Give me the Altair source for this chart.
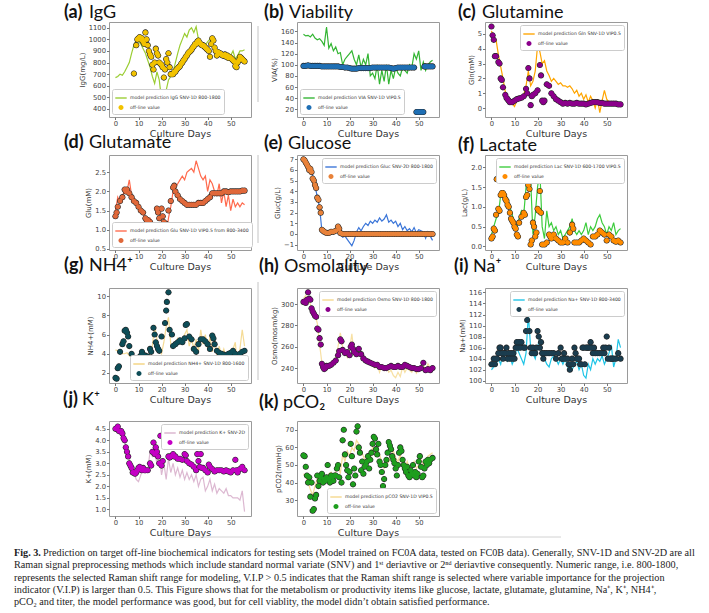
import altair as alt
import pandas as pd

DAYS = list(range(57))
X_DOMAIN = [-2.8, 58.8]
X_TICKS = [0, 10, 20, 30, 40, 50]
OFF = "off-line value"

# ---------------- (a) IgG
IGG_LINE = [670, 680, 700, 690, 720, 760, 800, 880, 950, 990,
            980, 960, 920, 880, 820, 760, 680, 620, 720, 650,
            480, 370, 560, 650, 680, 720, 800, 880, 950, 1000,
            1050, 1020, 1080, 1100, 1060, 1110, 1000, 960, 920, 950,
            980, 1000, 960, 940, 880, 900, 870, 860, 870, 880,
            860, 900, 830, 860, 900, 900, 910]
IGG_PTS = [(8, 705), (9, 950), (9.5, 1000), (10, 1010), (10.5, 1020), (11, 1000), (11.5, 1010), (12, 980),
           (12.5, 960), (13, 1060), (13.5, 1000), (14, 950), (14.5, 900), (15, 870), (15.5, 850), (16, 780),
           (16.5, 740), (17, 800), (17.5, 920), (18, 880), (18.5, 860), (19, 800), (19.5, 790), (20, 780),
           (20.5, 760), (21, 670), (21.5, 740), (22, 830), (22.5, 800), (23, 880), (23.5, 760), (24, 700),
           (24.5, 700), (25, 700), (25.5, 720), (26, 720), (26.5, 740), (27, 750), (27.5, 760), (28, 770),
           (28.5, 790), (29, 800), (29.5, 820), (30, 830), (30.5, 850), (31, 860), (31.5, 880), (32, 890),
           (32.5, 900), (33, 910), (33.5, 930), (34, 940), (34.5, 960), (35, 960), (35.5, 980), (36, 990),
           (36.5, 970), (37, 960), (37.5, 950), (38, 950), (38.5, 940), (39, 930), (39.5, 920), (40, 910),
           (40.5, 900), (41, 850), (41.5, 960), (42, 1010), (42.5, 990), (43, 930), (43.5, 900), (44, 860),
           (44.5, 890), (45, 880), (45.5, 880), (46, 870), (46.5, 860), (47, 860), (47.5, 870), (48, 850),
           (48.5, 860), (49, 840), (49.5, 850), (50, 840), (50.5, 830), (51, 820), (51.5, 810), (52, 770),
           (52.5, 760), (53, 800), (53.5, 820), (54, 850), (54.5, 840), (55, 830), (55.5, 820), (56, 810)]
IGG_TICKS = [400, 500, 600, 700, 800, 900, 1000, 1100]

# ---------------- (b) Viability
VIA_LINE = [155, 152, 153, 150, 155, 148, 145, 147, 142, 135,
            168, 130, 138, 125, 132, 120, 122, 100, 110, 115,
            120, 125, 110, 100, 118, 95, 110, 100, 120, 80,
            85, 75, 100, 65, 90, 70, 100, 65, 90, 75,
            95, 85, 80, 95, 90, 85, 100, 95, 120, 110,
            125, 90, 105, 90, 100, 105, 108]
VIA_PTS = [(0, 98), (1, 98), (2, 99), (3, 98), (4, 98), (5, 98), (6, 98), (7, 98), (8, 97), (9, 97),
           (10, 97), (11, 97), (12, 97), (13, 97), (14, 97), (15, 97), (16, 96), (17, 96), (18, 95),
           (19, 95), (20, 94), (21, 93), (22, 93), (23, 93), (24, 94), (25, 94), (26, 94), (27, 94),
           (28, 94), (29, 94), (30, 95), (31, 95), (32, 95), (33, 95), (34, 95), (35, 95), (36, 95),
           (37, 95), (38, 94), (39, 93), (40, 94), (41, 95), (42, 95), (43, 95), (44, 95), (45, 95),
           (46, 95), (47, 95), (48, 95), (49, 15), (49.5, 15), (50, 15), (50.5, 15), (51, 15),
           (51.5, 15), (52, 15), (52.5, 97), (53, 97), (54, 97), (55, 97), (56, 97)]
VIA_TICKS = [20, 40, 60, 80, 100, 120, 140, 160]

# ---------------- (c) Glutamine
GLN_LINE = [5.2, 4.8, 4.6, 3.6, 2.8, 2.0, 1.1, 0.7, 0.5, 0.3,
            0.1, 0.5, 0.6, 0.8, 0.9, 1.5, 2.5, 1.5, 1.8, 2.5,
            4.2, 3.8, 3.0, 3.2, 2.5, 2.2, 1.8, 2.0, 1.8, 1.6,
            1.7, 1.5, 1.5, 1.4, 1.5, 1.3, 1.0, 1.2, 0.8, 1.0,
            0.6, 0.9, 0.4, 0.8, 0.5, 0.0, 0.6, -0.3, 0.5, 1.2,
            0.6, 0.4, 0.3, 0.3, 0.4, 0.3, 0.3]
GLN_PTS = [(0, 5.5), (0.5, 4.9), (1, 4.6), (1.5, 3.5), (2, 3.5), (3, 3.1), (3.5, 3.0), (4, 2.0), (4.5, 1.9),
           (5, 1.4), (6, 0.9), (6.5, 0.7), (7, 0.6), (7.5, 0.5), (8, 0.4), (9, 0.4), (10, 0.5), (11, 0.6),
           (12, 0.65), (13, 0.7), (14, 0.8), (15, 1.3), (15.5, 1.0), (16, 2.7), (16.5, 2.0), (17, 0.2),
           (17.5, 0.8), (18, 0.9), (19, 1.0), (20, 1.2), (21, 2.9), (21.5, 2.2), (22, 0.5), (22.5, 0.4),
           (23, 0.5), (24, 1.6), (25, 1.5), (26, 1.0), (27, 0.8), (28, 0.6), (29, 0.5), (30, 0.4),
           (31, 0.3), (32, 0.35), (33, 0.3), (34, 0.35), (35, 0.3), (36, 0.3), (37, 0.35), (38, 0.3),
           (39, 0.3), (40, 0.3), (41, 0.25), (42, 0.3), (43, 0.35), (44, 0.4), (45, 0.4), (46, 0.4),
           (47, 0.35), (48, 0.35), (49, 0.3), (50, 0.3), (51, 0.3), (52, 0.3), (53, 0.3), (54, 0.3),
           (55, 0.25), (56, 0.25)]
GLN_TICKS = [0, 1, 2, 3, 4, 5]

# ---------------- (d) Glutamate
GLU_LINE = [1.5, 1.85, 1.7, 1.9, 2.0, 2.0, 2.3, 1.9, 1.8, 1.7,
            1.6, 1.5, 1.4, 1.3, 1.3, 1.3, 1.2, 1.0, 0.9, 0.7,
            0.6, 1.0, 0.9, 1.3, 1.6, 2.0, 2.1, 2.2, 2.3, 2.4,
            2.3, 2.5, 2.55, 2.6, 2.5, 2.8, 2.6, 2.4, 2.3, 2.4,
            2.0, 2.3, 2.2, 2.0, 1.9, 2.2, 1.7, 2.0, 1.6, 1.9,
            1.5, 1.8, 1.6, 1.7, 1.6, 1.7, 1.65]
GLU_PTS = [(0, 1.35), (0.5, 1.45), (1, 1.6), (2, 1.75), (3, 1.85), (4, 2.05), (4.5, 2.0), (5, 2.05),
           (6, 1.95), (7, 1.85), (8, 1.75), (9, 1.7), (10, 1.6), (11, 1.5), (12, 1.45), (13, 1.3),
           (13.5, 1.25), (14, 1.25), (15, 1.2), (16, 1.1), (17, 1.05), (18, 1.55), (18.5, 1.45), (19, 1.3),
           (20, 1.55), (20.5, 1.35), (21, 1.2), (22, 1.15), (23, 1.5), (24, 1.75), (25, 2.1), (25.5, 2.15),
           (26, 2.0), (27, 1.9), (28, 1.8), (29, 1.75), (30, 1.7), (31, 1.65), (32, 1.65), (33, 1.65),
           (34, 1.65), (35, 1.65), (36, 1.7), (37, 1.7), (38, 1.7), (39, 1.75), (40, 1.8), (41, 1.85),
           (42, 1.95), (43, 1.95), (44, 1.95), (45, 1.95), (46, 1.95), (47, 2.0), (48, 2.0), (49, 1.98),
           (50, 2.0), (51, 2.0), (52, 2.0), (53, 2.0), (54, 2.0), (55, 2.02), (56, 2.02)]
GLU_TICKS = [0.5, 1.0, 1.5, 2.0, 2.5]

# ---------------- (e) Glucose
GLUC_LINE = [7.0, 6.7, 6.4, 6.0, 5.5, 4.5, 3.5, 2.5, 0.3, 0.2,
             0.1, 0.2, 0.0, 0.3, 0.3, 0.6, 0.1, -0.3, -0.2, -0.5,
             -0.8, -1.1, -0.6, 0.2, 0.6, 0.3, 0.7, 1.0, 0.8, 1.2,
             1.0, 1.3, 1.1, 1.5, 1.2, 1.4, 1.8, 1.1, 1.3, 1.0,
             1.2, 0.7, 1.0, 0.4, 0.7, 0.3, 0.5, 0.2, 0.6, 0.1,
             0.4, 0.3, 0.2, -0.4, 0.2, -0.2, -0.6]
GLUC_PTS = [(0, 7.0), (0.5, 6.9), (1, 6.7), (1.5, 6.5), (2, 6.3), (2.5, 6.0), (3, 6.1), (3.5, 5.8), (4, 5.2),
            (4.5, 5.0), (5, 4.6), (5.5, 4.3), (6, 3.4), (6.5, 3.2), (7, 2.5), (7.5, 2.0), (8, 0.4),
            (8.5, 0.3), (9, 0.2), (10, 0.1), (11, 0.1), (12, 0.2), (13, 0.2), (14, 0.3), (15, 0.7),
            (15.5, 0.5), (16, 0.1), (17, 0.0), (18, 0.0), (19, 0.0), (20, 0.0), (21, 0.0), (22, 0.0),
            (23, 0.0), (24, 0.0), (25, 0.0), (26, 0.0), (27, 0.0), (28, 0.0), (29, 0.0), (30, 0.0),
            (31, 0.0), (32, 0.0), (33, 0.0), (34, 0.0), (35, 0.0), (36, 0.0), (37, 0.0), (38, 0.0),
            (39, 0.0), (40, 0.0), (41, 0.0), (42, 0.0), (43, 0.0), (44, 0.0), (45, 0.0), (46, 0.0),
            (47, 0.0), (48, 0.0), (49, 0.0), (50, 0.0), (51, 0.0), (52, 0.0), (53, 0.0), (54, 0.0),
            (55, 0.0), (56, 0.0)]
GLUC_TICKS = [-1, 0, 1, 2, 3, 4, 5, 6, 7]

# ---------------- (f) Lactate
LAC_LINE = [0.3, 0.5, 0.7, 0.8, 1.3, 1.4, 1.3, 1.2, 1.0, 0.8,
            0.6, 0.5, 0.7, 0.9, 0.8, 1.5, 2.0, 1.7, 0.3, 0.8,
            1.5, 1.9, 0.5, 0.2, 0.9, 0.5, 0.6, 0.4, 0.5, 0.3,
            0.4, 0.2, 0.3, 0.4, 0.5, 0.7, 0.4, 0.3, 0.4, 0.3,
            0.4, 0.6, 0.3, 0.5, 0.4, 0.5, 0.7, 0.8, 0.6, 0.5,
            0.3, 0.5, 0.4, 0.6, 0.3, 0.4, 0.45]
LAC_PTS = [(0, 0.2), (0.5, 0.25), (1, 0.45), (1.5, 0.4), (2, 0.8), (2.3, 1.7), (3, 0.95), (3.5, 0.9),
           (4, 1.3), (4.5, 1.35), (5, 1.35), (5.5, 1.3), (6, 1.2), (6.5, 1.15), (7, 1.05), (7.5, 1.0),
           (8, 0.85), (8.5, 0.7), (9, 0.65), (9.5, 0.6), (10, 0.5), (10.5, 0.45), (11, 0.3), (11.5, 0.25),
           (12, 0.6), (13, 0.75), (14, 0.85), (14.5, 0.8), (15, 1.25), (15.5, 1.3), (16, 1.55), (16.5, 1.45),
           (17, 0.05), (17.5, 0.15), (18, 0.6), (18.5, 0.5), (19, 0.25), (19.5, 0.35), (20, 0.95),
           (20.5, 0.9), (21, 1.4), (21.5, 0.85), (22, 0.05), (23, 0.05), (24, 0.1), (25, 0.3), (25.5, 0.25),
           (26, 0.2), (27, 0.3), (28, 0.2), (29, 0.15), (30, 0.1), (31, 0.1), (32, 0.2), (33, 0.1),
           (34, 0.35), (35, 0.55), (35.5, 0.45), (36, 0.1), (37, 0.1), (38, 0.1), (39, 0.15), (40, 0.2),
           (41, 0.15), (42, 0.1), (43, 0.05), (44, 0.25), (45, 0.25), (46, 0.3), (47, 0.4), (48, 0.35),
           (49, 0.3), (50, 0.15), (51, 0.3), (52, 0.25), (53, 0.15), (54, 0.12), (55, 0.15), (56, 0.1)]
LAC_TICKS = [0.0, 0.5, 1.0, 1.5, 2.0]

# ---------------- (g) NH4+
NH4_LINE = [4.4, 4.3, 4.2, 4.0, 4.0, 4.1, 3.8, 3.6, 3.5, 3.4,
            3.5, 3.8, 3.6, 3.8, 3.5, 4.0, 4.8, 7.0, 5.5, 4.5,
            4.0, 5.2, 6.8, 7.8, 5.0, 4.8, 5.0, 5.6, 5.2, 5.5,
            6.0, 6.5, 4.8, 5.6, 4.5, 5.5, 4.2, 6.5, 5.0, 6.0,
            4.5, 5.8, 4.2, 5.5, 3.8, 4.8, 3.8, 4.5, 3.6, 4.2,
            3.5, 4.5, 5.2, 2.3, 4.5, 6.5, 4.8]
NH4_PTS = [(0, 1.5), (0.5, 1.4), (1, 2.5), (1.5, 2.7), (2, 4.2), (3, 5.0), (3.5, 5.3), (4, 6.4), (4.5, 6.5),
           (5, 6.2), (5.5, 5.8), (6, 4.8), (7, 4.0), (8, 3.1), (8.5, 3.2), (9, 3.3), (9.5, 3.5), (10, 3.6),
           (11, 3.8), (11.5, 4.2), (12, 3.9), (13, 3.8), (14, 3.7), (15, 4.5), (15.5, 4.2), (16, 3.2),
           (16.5, 6.7), (17, 6.0), (17.5, 5.2), (18, 4.8), (18.5, 4.5), (19, 4.3), (20, 5.8), (20.5, 3.0),
           (21, 2.9), (21.5, 7.2), (22, 8.5), (22.3, 9.4), (23, 10.4), (23.5, 6.5), (24, 3.2), (24.5, 6.0),
           (25, 4.8), (26, 5.0), (27, 5.2), (28, 5.4), (29, 5.2), (30, 5.6), (30.5, 7.0), (31, 7.1),
           (32, 5.8), (33, 5.5), (34, 4.5), (35, 4.2), (36, 5.0), (37, 5.5), (38, 5.5), (39, 5.3),
           (40, 5.0), (41, 4.5), (42, 5.9), (42.5, 5.6), (43, 5.0), (44, 4.3), (45, 4.1), (46, 4.0),
           (47, 3.9), (48, 3.8), (49, 4.0), (50, 4.1), (51, 4.3), (52, 4.0), (53, 3.6), (54, 4.0),
           (55, 4.2), (56, 4.3)]
NH4_TICKS = [2, 4, 6, 8, 10]

# ---------------- (h) Osmolality
OSMO_LINE = [305, 308, 303, 300, 292, 290, 282, 262, 245, 242,
             240, 243, 244, 246, 250, 260, 273, 260, 255, 250,
             258, 272, 252, 258, 256, 252, 248, 246, 244, 245,
             242, 240, 244, 236, 242, 238, 241, 236, 238, 233,
             231, 236, 232, 241, 236, 240, 238, 236, 240, 235,
             238, 240, 243, 237, 244, 240, 238]
OSMO_PTS = [(0, 302), (0.5, 302), (1, 301), (1.5, 304), (2, 311), (2.5, 305), (3, 304), (3.5, 296), (4, 293),
            (4.5, 291), (5, 289), (5.5, 288), (6, 277), (6.5, 276), (7, 268), (7.5, 262), (8, 244),
            (8.5, 241), (9, 239), (9.5, 240), (10, 242), (11, 242), (12, 243), (13, 245), (14, 247),
            (15, 252), (15.5, 256), (16, 267), (16.5, 265), (17, 257), (18, 254), (19, 255), (20, 252),
            (20.5, 260), (21, 262), (21.5, 258), (22, 255), (23, 253), (24, 258), (25, 253), (26, 249),
            (27, 247), (28, 246), (29, 245), (30, 244), (31, 243), (32, 243), (33, 241), (34, 241),
            (35, 240), (36, 240), (37, 241), (38, 242), (39, 241), (40, 241), (41, 242), (42, 241),
            (43, 241), (44, 243), (45, 242), (46, 241), (47, 240), (48, 240), (49, 239), (50, 239),
            (51, 240), (52, 245), (53, 238), (54, 239), (55, 238), (56, 240)]
OSMO_TICKS = [240, 260, 280, 300]

# ---------------- (i) Na+
NA_LINE = [102, 102.5, 103, 104, 103, 105, 104, 103.5, 104.5, 103,
           104, 106, 105, 104, 103, 105, 112, 106, 105, 104,
           106, 108, 104, 104, 103, 102.5, 104, 104.5, 104, 103,
           104, 103, 104, 102.5, 103, 102, 103, 103.5, 102, 103,
           101, 100.5, 103, 102, 104, 103, 104, 103.5, 104.5, 103,
           104, 105, 106.5, 102.5, 104, 107.5, 106]
NA_PTS = [(0, 103), (0.5, 103), (1, 104), (1.5, 103), (2, 104), (2.5, 104), (3, 105), (3.5, 106), (4, 106),
          (4.5, 105), (5, 104), (5.5, 105), (6, 105), (6.5, 106), (7, 104), (7.5, 105), (8, 104), (8.5, 105),
          (9, 104), (9.5, 105), (10, 104), (10.5, 106), (11, 107), (11.5, 106), (12, 107), (12.5, 106),
          (13, 107), (14, 106), (14.5, 106), (15, 109), (15.5, 111), (16, 113), (16.5, 109), (17, 106),
          (17.5, 105), (18, 106), (18.5, 105), (19, 105), (19.5, 106), (20, 109), (20.5, 108), (21, 106),
          (21.5, 107), (22, 105), (22.5, 104), (23, 105), (24, 105), (25, 105), (26, 105), (27, 105),
          (28, 104), (29, 105), (30, 106), (30.5, 104), (31, 104), (31.5, 105), (32, 104), (33, 104),
          (33.5, 103), (34, 102), (34.5, 103), (35, 104), (35.5, 103), (36, 106), (36.5, 105), (37, 104),
          (37.5, 104), (38, 104), (38.5, 103), (39, 103), (39.5, 106), (40, 106), (40.5, 103), (41, 106),
          (41.5, 106), (42, 106), (42.5, 106), (43, 107), (43.5, 106), (44, 105), (44.5, 106), (45, 105),
          (46, 105), (47, 105), (48, 105), (48.5, 106), (49, 105), (49.5, 106), (50, 108), (50.5, 104),
          (51, 106), (51.5, 104), (52, 104), (52.5, 104), (53, 104), (54, 104), (55, 105), (56, 104)]
NA_TICKS = [100, 102, 104, 106, 108, 110, 112, 114, 116]

# ---------------- (j) K+
K_LINE = [4.5, 4.4, 4.3, 4.2, 4.0, 3.6, 3.2, 2.8, 2.6, 2.3,
          2.2, 2.5, 2.8, 2.6, 2.7, 3.5, 3.3, 3.5, 3.0, 3.4,
          2.5, 3.0, 2.3, 3.2, 2.6, 3.0, 2.5, 2.8, 2.4, 2.7,
          2.3, 2.6, 2.3, 2.5, 2.2, 2.5, 2.0, 2.3, 2.4, 1.8,
          2.0, 2.3, 1.8, 2.1, 1.7, 1.9, 1.8, 1.7, 1.9, 1.6,
          1.6, 1.5, 1.5, 1.5, 1.4, 1.8, 0.9]
K_PTS = [(0, 4.5), (0.5, 4.5), (1, 4.6), (1.5, 4.4), (2, 4.4), (2.5, 4.4), (3, 4.3), (3.5, 4.1), (4, 4.0),
         (4.5, 3.7), (5, 3.5), (5.5, 3.3), (6, 3.0), (6.5, 2.9), (7, 2.8), (7.5, 2.6), (8, 2.6), (8.5, 2.55),
         (9, 2.6), (9.5, 2.7), (10, 2.8), (10.5, 2.85), (11, 2.75), (11.5, 2.7), (12, 2.8), (12.5, 2.7),
         (13, 2.7), (14, 2.7), (15, 3.0), (15.5, 2.9), (16, 3.5), (16.5, 3.9), (17, 3.4), (17.5, 3.7),
         (18, 3.5), (18.5, 3.3), (19, 3.0), (19.5, 4.2), (20, 2.9), (20.5, 3.1), (21, 4.2), (21.5, 4.3),
         (22, 4.45), (22.5, 3.8), (23, 3.3), (23.5, 3.25), (24, 3.3), (25, 3.4), (25.5, 3.3), (26, 3.3),
         (27, 3.2), (28, 3.2), (29, 3.15), (30, 3.4), (30.5, 3.35), (31, 3.1), (32, 3.0), (33, 2.95),
         (34, 2.85), (35, 2.7), (35.5, 3.4), (36, 3.1), (36.5, 2.85), (37, 3.4), (37.5, 2.8), (38, 2.8),
         (39, 2.7), (40, 2.6), (40.5, 2.95), (41, 2.85), (42, 2.75), (43, 2.65), (44, 2.7), (45, 2.7),
         (46, 2.7), (47, 2.65), (48, 2.7), (49, 2.65), (50, 2.6), (51, 2.7), (52, 3.15), (52.5, 2.7),
         (53, 2.6), (54, 2.75), (55, 2.85), (56, 2.7)]
K_TICKS = [1.0, 1.5, 2.0, 2.5, 3.0, 3.5, 4.0, 4.5]

# ---------------- (k) pCO2
PCO2_LINE = [45, 43, 40, 36, 33, 38, 42, 45, 43, 44,
             42, 45, 46, 44, 46, 50, 45, 56, 52, 58,
             55, 60, 58, 64, 62, 58, 55, 52, 56, 54,
             60, 58, 55, 56, 52, 48, 50, 52, 56, 58,
             54, 52, 56, 50, 48, 52, 48, 50, 52, 48,
             50, 53, 50, 52, 55, 56, 57]
PCO2_PTS = [(0, 55.5), (0.5, 55), (1, 49), (1.5, 44), (2, 40), (2.5, 43), (3, 32), (3.5, 40), (4, 24),
            (4.5, 25), (5, 31), (5.5, 33), (6, 44), (6.5, 38), (7, 41), (7.5, 43), (8, 45), (8.5, 40),
            (9, 42), (9.5, 41), (10, 43), (10.5, 50), (11, 42), (11.5, 40), (12, 44), (12.5, 43), (13, 41),
            (13.5, 44), (14, 44), (14.5, 48), (15, 50), (15.5, 43), (16, 33.5), (16.5, 40), (17, 64),
            (17.5, 70), (18, 56), (18.5, 50), (19, 47), (19.5, 43), (20, 46), (20.5, 62), (21, 55),
            (21.5, 39), (22, 48), (22.5, 44), (23, 69), (23.5, 72), (24, 60), (24.5, 57), (25, 47),
            (25.5, 52), (26, 45), (26.5, 49), (27, 50), (27.5, 52), (28, 55), (28.5, 48), (29, 53),
            (29.5, 57), (30, 62), (30.5, 66), (31, 65), (31.5, 59), (32, 56), (32.5, 62), (33, 52),
            (33.5, 50), (34, 46), (34.5, 38), (35, 42), (35.5, 50), (36, 53), (36.5, 57), (37, 63),
            (37.5, 61), (38, 59), (38.5, 55), (39, 53), (39.5, 51), (40, 48), (40.5, 44), (41, 50),
            (41.5, 57), (42, 60), (42.5, 58), (43, 53), (43.5, 50), (44, 48), (44.5, 46), (45, 49),
            (45.5, 44), (46, 43), (46.5, 47), (47, 45), (47.5, 50), (48, 44), (48.5, 46), (49, 43),
            (49.5, 45), (50, 52), (50.5, 55), (51, 49), (51.5, 43), (52, 44), (52.5, 48), (53, 52),
            (53.5, 50), (54, 53), (54.5, 51), (55, 53), (56, 54)]
PCO2_TICKS = [30, 40, 50, 60, 70]

CAPTION_BOLD = "Fig. 3."
CAPTION_LINES = [
    "Prediction on target off-line biochemical indicators for testing sets (Model trained on FC0A data, tested on FC0B data). Generally, SNV-1D and SNV-2D are all",
    "Raman signal preprocessing methods which include standard normal variate (SNV) and 1ˢᵗ deriavtive or 2ⁿᵈ deriavtive consequently. Numeric range, i.e. 800-1800,",
    "represents the selected Raman shift range for modeling, V.I.P > 0.5 indicates that the Raman shift range is selected where variable importance for the projection",
    "indicator (V.I.P) is larger than 0.5. This Figure shows that for the metabolism or productivity items like glucose, lactate, glutamate, glutamine, Na⁺, K⁺, NH4⁺,",
    "pCO₂ and titer, the model performance was good, but for cell viablity, the model didn’t obtain satisfied performance.",
]

PANELS = [
    dict(key="(a)", name="IgG", ylab="IgG(mg/L)", pred="model prediction IgG SNV-1D 800-1800",
         line=IGG_LINE, pts=IGG_PTS, lc="#9acd32", pc="#f2c200", dom=[330, 1150], ticks=IGG_TICKS,
         fmt="d", lo="bottom-left", dx=-45, dy=-4, ndx=25, la=1.0, edge=None),
    dict(key="(b)", name="Viability", ylab="VIA(%)", pred="model prediction VIA SNV-1D VIP0.5",
         line=VIA_LINE, pts=VIA_PTS, lc="#33b533", pc="#1f6fb4", dom=[6, 177], ticks=VIA_TICKS,
         fmt="d", lo="bottom-left", dx=-33, dy=-4, ndx=25, la=1.0, edge=(4, 80)),
    dict(key="(c)", name="Glutamine", ylab="Gln(mM)", pred="model prediction Gln SNV-1D VIP0.5",
         line=GLN_LINE, pts=GLN_PTS, lc="#ffa500", pc="#8b008b", dom=[-0.6, 5.8], ticks=GLN_TICKS,
         fmt="d", lo="top-right", dx=-27, dy=-4, ndx=24, la=1.0, edge=None),
    dict(key="(d)", name="Glutamate", ylab="Glu(mM)", pred="model prediction Glu SNV-1D VIP0.5 from 800-3400",
         line=GLU_LINE, pts=GLU_PTS, lc="#ff6a4d", pc="#e0683a", dom=[0.47, 2.95], ticks=GLU_TICKS,
         fmt=".1f", lo="bottom-left", dx=-45, dy=-7, ndx=25, la=1.0, edge=None),
    dict(key="(e)", name="Glucose", ylab="Gluc(g/L)", pred="model prediction Gluc SNV-2D 800-1800",
         line=GLUC_LINE, pts=GLUC_PTS, lc="#3a75d8", pc="#e8823a", dom=[-1.5, 7.4], ticks=GLUC_TICKS,
         fmt="d", lo="top-right", dx=-33, dy=-6, ndx=24, la=1.0, edge=(0, 88)),
    dict(key="(f)", name="Lactate", ylab="Lac(g/L)", pred="model prediction Lac SNV-1D 600-1700 VIP0.5",
         line=LAC_LINE, pts=LAC_PTS, lc="#3ccc3c", pc="#ff8c00", dom=[-0.09, 2.31], ticks=LAC_TICKS,
         fmt=".1f", lo="top-right", dx=-27, dy=-4, ndx=21, la=1.0, edge=None),
    dict(key="(g)", name="NH4⁺", ylab="NH4+(mM)", pred="model prediction NH4+ SNV-1D 800-1600",
         line=NH4_LINE, pts=NH4_PTS, lc="#f3d27a", pc="#0e4d57", dom=[0.95, 10.85], ticks=NH4_TICKS,
         fmt="d", lo="bottom-right", dx=-45, dy=-17, ndx=25, la=0.8, edge=None),
    dict(key="(h)", name="Osmolality", ylab="Osmo(mosm/kg)", pred="model prediction Osmo SNV-1D 800-1800",
         line=OSMO_LINE, pts=OSMO_PTS, lc="#f5d88c", pc="#8b008b", dom=[226, 315], ticks=OSMO_TICKS,
         fmt="d", lo="top-right", dx=-38, dy=-16, ndx=25, la=0.8, edge=(-6, 92)),
    dict(key="(i)", name="Na⁺", ylab="Na+(mM)", pred="model prediction Na+ SNV-1D 800-3400",
         line=NA_LINE, pts=NA_PTS, lc="#1ec4e6", pc="#1b3d4f", dom=[99.6, 116.8], ticks=NA_TICKS,
         fmt="d", lo="top-right", dx=-31, dy=-16, ndx=19, la=1.0, edge=None),
    dict(key="(j)", name="K⁺", ylab="K+(mM)", pred="model prediction K+ SNV-2D",
         line=K_LINE, pts=K_PTS, lc="#d8b0cc", pc="#c400c4", dom=[0.71, 4.84], ticks=K_TICKS,
         fmt=".1f", lo="top-right", dx=-46, dy=-16, ndx=19, la=0.9, edge=None),
    dict(key="(k)", name="pCO₂", ylab="pCO2(mmHg)", pred="model prediction pCO2 SNV-1D VIP0.5",
         line=PCO2_LINE, pts=PCO2_PTS, lc="#f5d88c", pc="#1e9e1e", dom=[21, 75], ticks=PCO2_TICKS,
         fmt="d", lo="bottom-right", dx=-38, dy=-13, ndx=24, la=0.9, edge=None),
]

TITLE_FONT = "Lato"
W, H = 142, 95
SYM = 130  # symbol area used for the point layer and the legend
BAR_PATH = "M-1,-0.12H1V0.12H-1Z"
DOT_PATH = "M-0.44,0A0.44,0.44 0 1,0 0.44,0A0.44,0.44 0 1,0 -0.44,0Z"
EDGE_PATH = "M-0.54,0A0.54,0.54 0 1,0 0.54,0A0.54,0.54 0 1,0 -0.54,0Z"
ONE = pd.DataFrame({"k": [0]})


def make_panel(p, extra=()):
    line_df = pd.DataFrame({"day": DAYS, "val": p["line"]})
    line_df["series"] = p["pred"]
    pt_df = pd.DataFrame(p["pts"], columns=["day", "val"])
    pt_df["series"] = OFF
    dom = [p["pred"], OFF]
    leg = alt.Legend(title=None, orient=p["lo"], offset=3)
    color = alt.Color("series:N", scale=alt.Scale(domain=dom, range=[p["lc"], p["pc"]]), legend=leg)
    shape = alt.Shape("series:N", scale=alt.Scale(domain=dom, range=[BAR_PATH, DOT_PATH]), legend=leg)
    x = alt.X("day:Q", scale=alt.Scale(domain=X_DOMAIN, nice=False, zero=False),
              axis=alt.Axis(values=X_TICKS, title="Culture Days"))
    y = alt.Y("val:Q", scale=alt.Scale(domain=p["dom"], nice=False, zero=False),
              axis=alt.Axis(values=p["ticks"], title=p["ylab"], format=p["fmt"]))
    line = alt.Chart(line_df).mark_line(strokeWidth=1.2, opacity=p["la"]).encode(x=x, y=y, color=color)
    edge = alt.Chart(pt_df).mark_point(filled=True, size=SYM, opacity=1, color="#222").encode(
        x=x, y=y, shape=alt.value(EDGE_PATH))
    pts = alt.Chart(pt_df).mark_point(filled=True, size=SYM, opacity=1).encode(
        x=x, y=y, color=color, shape=shape)
    lab = alt.Chart(pd.DataFrame({"t": [p["key"]]})).mark_text(
        align="left", baseline="alphabetic", font=TITLE_FONT, fontSize=18, fontWeight="bold", color="#111"
    ).encode(text="t:N", x=alt.value(p["dx"]), y=alt.value(p["dy"]))
    nm = alt.Chart(pd.DataFrame({"t": [p["name"]]})).mark_text(
        align="left", baseline="alphabetic", font=TITLE_FONT, fontSize=18, fontWeight="normal", color="#111"
    ).encode(text="t:N", x=alt.value(p["dx"] + p["ndx"]), y=alt.value(p["dy"]))
    layers = [line, edge, pts, lab, nm]
    if p["edge"] is not None:
        # faint vertical page edge seen left of the middle column in the scan
        layers.append(alt.Chart(ONE).mark_rule(color="#c4c4c4", strokeWidth=1).encode(
            x=alt.value(-39), y=alt.value(p["edge"][0]), y2=alt.value(p["edge"][1])))
    return alt.layer(*layers, *extra).properties(width=W, height=H)


# caption, anchored below panel (j)
CAP_FS = 10.2
cap_layers = [
    alt.Chart(ONE).mark_rule(color="#d2d2d2", strokeWidth=1).encode(
        x=alt.value(55), x2=alt.value(452), y=alt.value(116)),
    alt.Chart(pd.DataFrame({"t": [CAPTION_BOLD]})).mark_text(
        align="left", baseline="alphabetic", font="Liberation Serif", fontSize=CAP_FS, fontWeight="bold",
        color="#222"
    ).encode(text="t:N", x=alt.value(-95), y=alt.value(135)),
]
for i, ln in enumerate(CAPTION_LINES):
    cap_layers.append(
        alt.Chart(pd.DataFrame({"t": [ln]})).mark_text(
            align="left", baseline="alphabetic", font="Liberation Serif", fontSize=CAP_FS, color="#222"
        ).encode(text="t:N", x=alt.value(-66 if i == 0 else -95), y=alt.value(135 + 12.3 * i))
    )

panels = []
for idx, p in enumerate(PANELS):
    panels.append(make_panel(p, cap_layers if idx == 9 else ()))

chart = alt.concat(*panels, columns=3, spacing={"row": 38, "column": 46}, bounds="flush").resolve_scale(
    color="independent", shape="independent"
).resolve_legend(color="independent", shape="independent").properties(
    padding={"left": 13, "top": 3, "right": 5, "bottom": 5}, background="white"
).configure_view(stroke="#9a9a9a", strokeWidth=1).configure_axis(
    domain=False, grid=False, labelFont="DejaVu Sans", labelFontSize=6.8, labelColor="#444",
    tickColor="#777", tickSize=2.5, titleFont="DejaVu Sans", titleFontWeight="normal", titleColor="#333",
    labelPadding=1,
).configure_axisX(titleFontSize=9.5, titlePadding=1.5).configure_axisY(titleFontSize=7, titlePadding=3).configure_legend(
    labelFont="DejaVu Sans", labelFontSize=4.6, labelColor="#333", labelLimit=400, padding=3,
    strokeColor="#cccccc", fillColor="white", cornerRadius=2, rowPadding=1.5, symbolSize=SYM,
    labelOffset=3, symbolStrokeWidth=0, symbolOpacity=1,
)

chart.save("out.html", embed_options={"renderer": "svg", "actions": False})
